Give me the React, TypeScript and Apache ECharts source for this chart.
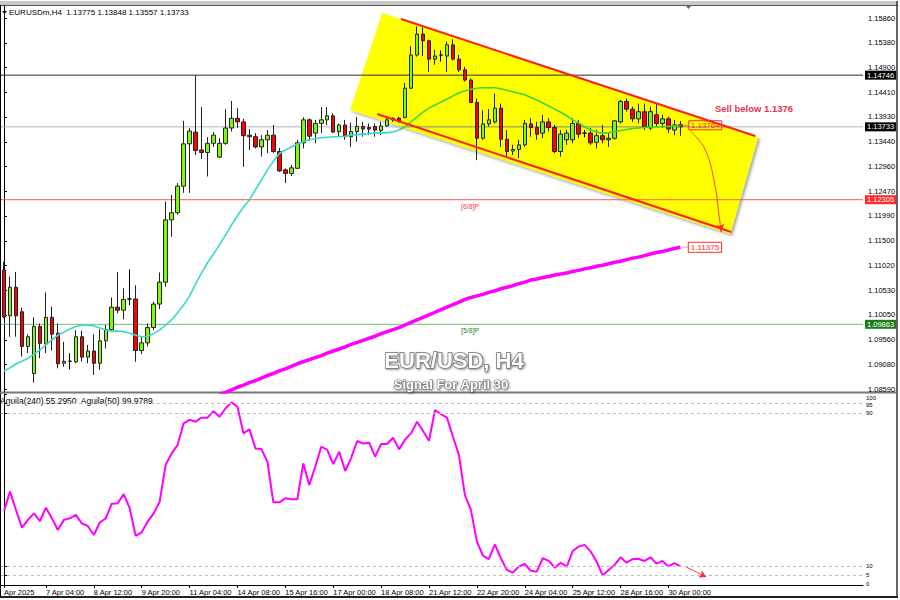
import React, { useEffect, useRef } from 'react';
import * as echarts from 'echarts';

// ---------- data ----------
const barCount = 144; // bar slots on the time axis (114 bars + right shift)

// [open, close, low, high]
const candles: number[][] = [
  [1.1093, 1.1001, 1.0998, 1.1109], [1.1003, 1.1059, 1.0962, 1.1080], [1.1059, 1.1003, 1.0962, 1.1089],
  [1.1011, 1.0943, 1.0923, 1.1019], [1.0943, 1.0962, 1.0930, 1.0967], [1.0890, 1.0982, 1.0872, 1.1000],
  [1.0982, 1.0949, 1.0920, 1.0988], [1.0948, 1.1000, 1.0930, 1.1049], [1.1000, 1.0967, 1.0935, 1.1021],
  [1.0969, 1.0909, 1.0900, 1.0988], [1.0910, 1.0914, 1.0903, 1.0952], [1.0914, 1.0914, 1.0898, 1.0930],
  [1.0913, 1.0962, 1.0910, 1.0975], [1.0962, 1.0922, 1.0913, 1.0974], [1.0922, 1.0934, 1.0910, 1.0946],
  [1.0934, 1.0910, 1.0887, 1.0967], [1.0910, 1.0954, 1.0897, 1.0976], [1.0954, 1.0976, 1.0939, 1.0985],
  [1.0976, 1.1020, 1.0972, 1.1039], [1.1020, 1.1014, 1.1008, 1.1089], [1.1014, 1.1035, 1.0996, 1.1057],
  [1.1036, 1.1036, 1.1024, 1.1094], [1.1036, 1.0935, 1.0913, 1.1063], [1.0935, 1.0950, 1.0928, 1.0962],
  [1.0950, 1.0980, 1.0943, 1.0988], [1.0980, 1.1026, 1.0975, 1.1031], [1.1026, 1.1069, 1.1016, 1.1088],
  [1.1069, 1.1191, 1.1060, 1.1227], [1.1191, 1.1205, 1.1158, 1.1240], [1.1205, 1.1257, 1.1201, 1.1263],
  [1.1257, 1.1340, 1.1244, 1.1385], [1.1340, 1.1365, 1.1244, 1.1371], [1.1363, 1.1327, 1.1318, 1.14746],
  [1.1328, 1.1323, 1.1310, 1.1412], [1.1323, 1.1341, 1.1276, 1.1353], [1.1341, 1.1357, 1.1334, 1.1363],
  [1.1314, 1.1341, 1.1312, 1.1351], [1.1341, 1.1371, 1.1338, 1.1408], [1.1371, 1.1390, 1.1364, 1.1424],
  [1.1390, 1.1383, 1.1371, 1.1410], [1.1383, 1.1356, 1.1295, 1.1389], [1.1357, 1.1354, 1.1328, 1.1369],
  [1.1354, 1.1334, 1.1331, 1.1361], [1.1334, 1.1348, 1.1315, 1.1357], [1.1348, 1.1357, 1.1322, 1.1367],
  [1.1357, 1.1325, 1.1322, 1.1377], [1.1325, 1.1287, 1.1285, 1.1332], [1.1289, 1.1282, 1.1263, 1.1292],
  [1.1282, 1.1293, 1.1277, 1.1299], [1.1292, 1.1342, 1.1291, 1.1348], [1.1342, 1.1387, 1.1331, 1.1392],
  [1.1387, 1.1355, 1.1346, 1.1390], [1.1361, 1.1380, 1.1341, 1.1387], [1.1380, 1.1387, 1.1361, 1.1412],
  [1.1387, 1.1395, 1.1377, 1.1412], [1.1395, 1.1363, 1.1361, 1.1400], [1.1364, 1.1377, 1.1354, 1.1380],
  [1.1377, 1.1354, 1.1348, 1.1387], [1.1354, 1.1364, 1.1334, 1.1382], [1.1364, 1.1374, 1.1344, 1.1393],
  [1.1374, 1.1369, 1.1354, 1.1383], [1.1372, 1.1369, 1.1357, 1.1380], [1.1374, 1.1367, 1.1354, 1.1380],
  [1.1366, 1.1375, 1.1357, 1.1383], [1.1375, 1.1387, 1.1374, 1.1392], [1.1390, 1.1387, 1.1383, 1.1392],
  [1.1390, 1.1385, 1.1381, 1.1393], [1.1392, 1.1449, 1.1390, 1.1459], [1.1449, 1.1514, 1.1447, 1.1532],
  [1.1514, 1.1555, 1.1511, 1.1570], [1.1555, 1.1542, 1.1512, 1.1568], [1.1542, 1.1506, 1.1481, 1.1544],
  [1.1506, 1.1512, 1.1495, 1.1524], [1.1514, 1.1514, 1.1501, 1.1523], [1.1512, 1.1534, 1.1481, 1.1540],
  [1.1534, 1.1506, 1.1503, 1.1545], [1.1506, 1.1485, 1.1481, 1.1514], [1.1485, 1.1465, 1.1462, 1.1491],
  [1.1465, 1.1421, 1.1420, 1.1468], [1.1421, 1.1351, 1.1308, 1.1429], [1.1351, 1.1379, 1.1348, 1.1406],
  [1.1379, 1.1387, 1.1374, 1.1408], [1.1383, 1.1410, 1.1380, 1.1439], [1.1410, 1.1349, 1.1334, 1.1419],
  [1.1349, 1.1325, 1.1315, 1.1367], [1.1326, 1.1329, 1.1318, 1.1338], [1.1329, 1.1338, 1.1312, 1.1348],
  [1.1338, 1.1380, 1.1334, 1.1387], [1.1379, 1.1372, 1.1354, 1.1390], [1.1372, 1.1359, 1.1348, 1.1383],
  [1.1361, 1.1383, 1.1351, 1.1397], [1.1383, 1.1372, 1.1364, 1.1390], [1.1372, 1.1325, 1.1322, 1.1377],
  [1.1325, 1.1359, 1.1315, 1.1367], [1.1348, 1.1361, 1.1338, 1.1367], [1.1348, 1.1380, 1.1341, 1.1390],
  [1.1380, 1.1359, 1.1351, 1.1387], [1.1361, 1.1361, 1.1353, 1.1367], [1.1361, 1.1342, 1.1338, 1.1371],
  [1.1343, 1.1356, 1.1331, 1.1367], [1.1356, 1.1348, 1.1341, 1.1377], [1.1348, 1.1351, 1.1334, 1.1361],
  [1.1351, 1.1385, 1.1348, 1.1387], [1.1383, 1.1423, 1.1380, 1.1426], [1.1423, 1.1408, 1.1403, 1.1429],
  [1.1408, 1.1389, 1.1383, 1.1413], [1.1389, 1.1403, 1.1380, 1.1419], [1.1403, 1.1372, 1.1367, 1.1419],
  [1.1371, 1.1403, 1.1367, 1.1413], [1.1397, 1.1380, 1.1374, 1.1419], [1.1380, 1.1389, 1.1371, 1.1397],
  [1.1389, 1.1369, 1.1361, 1.1393], [1.1367, 1.1377, 1.1357, 1.1387], [1.13775, 1.13733, 1.13557, 1.13848],
];

// fast moving average (turquoise)
const maFast: number[] = [
  1.0895, 1.0901, 1.0909, 1.0914, 1.0920, 1.0928, 1.0936, 1.0946, 1.0956, 1.0965,
  1.0971, 1.0977, 1.0982, 1.0985, 1.0985, 1.0983, 1.0979, 1.0975, 1.0973, 1.0973,
  1.0972, 1.0969, 1.0965, 1.0962, 1.0963, 1.0968, 1.0975, 1.0985, 1.0995, 1.1009,
  1.1024, 1.1042, 1.1065, 1.1087, 1.1107, 1.1124, 1.1142, 1.1161, 1.1181, 1.1199,
  1.1216, 1.1230, 1.1250, 1.1269, 1.1289, 1.1306, 1.1321, 1.1328, 1.1334, 1.1339,
  1.1344, 1.1348, 1.1350, 1.1352, 1.1353, 1.1354, 1.1354, 1.1355, 1.1357, 1.1358,
  1.1359, 1.1360, 1.1361, 1.1361, 1.1362, 1.1363, 1.1367, 1.1374, 1.1383, 1.1393,
  1.1402, 1.1410, 1.1416, 1.1422, 1.1428, 1.1434, 1.1440, 1.1444, 1.1447, 1.1449,
  1.1450, 1.1450, 1.1450, 1.1448, 1.1445, 1.1442, 1.1439, 1.1436, 1.1431, 1.1426,
  1.1420, 1.1414, 1.1408, 1.1402, 1.1395, 1.1387, 1.1381, 1.1373, 1.1367, 1.1363,
  1.1361, 1.1362, 1.1364, 1.1366, 1.1368, 1.1370, 1.1371, 1.1372, 1.1373, 1.1373,
  1.1374, 1.1374, 1.1375, 1.1375,
];
const maFastSplit = 66; // bar where the average enters the yellow channel

// slow moving average (magenta), starting at bar maSlowStart
const maSlowStart = 36;
const maSlow: number[] = [
  1.0849, 1.0853, 1.0858, 1.0863, 1.0867, 1.0872, 1.0876, 1.0881, 1.0886, 1.0890,
  1.0895, 1.0899, 1.0904, 1.0909, 1.0913, 1.0917, 1.0921, 1.0925, 1.0930, 1.0934,
  1.0938, 1.0942, 1.0947, 1.0951, 1.0955, 1.0959, 1.0963, 1.0968, 1.0972, 1.0976,
  1.0980, 1.0985, 1.0990, 1.0995, 1.1000, 1.1005, 1.1010, 1.1015, 1.1020, 1.1025,
  1.1030, 1.1035, 1.1039, 1.1042, 1.1045, 1.1049, 1.1052, 1.1056, 1.1059, 1.1062,
  1.1066, 1.1069, 1.1073, 1.1075, 1.1078, 1.1080, 1.1083, 1.1085, 1.1087, 1.1090,
  1.1092, 1.1095, 1.1097, 1.1100, 1.1102, 1.1105, 1.1108, 1.1110, 1.1113, 1.1116,
  1.1118, 1.1121, 1.1124, 1.1127, 1.1129, 1.1132, 1.1135, 1.11375,
];

// oscillator in the lower panel
const aguila: number[] = [
  38.8, 48.9, 39.3, 30.0, 34.1, 37.5, 33.5, 40.5, 34.9, 28.8,
  34.1, 34.9, 36.7, 32.3, 30.9, 26.2, 32.7, 34.9, 42.6, 42.8,
  47.6, 40.2, 25.7, 27.6, 33.2, 37.5, 43.6, 62.8, 68.9, 73.3,
  84.6, 86.5, 85.5, 87.6, 87.6, 91.0, 88.1, 92.4, 95.6, 93.3,
  79.4, 81.5, 71.5, 71.2, 64.6, 43.3, 43.3, 45.4, 44.9, 44.9,
  63.7, 52.4, 61.9, 72.4, 70.7, 63.3, 69.8, 59.7, 66.6, 75.4,
  74.1, 74.5, 67.2, 73.8, 73.8, 77.1, 71.0, 76.2, 79.4, 85.5,
  80.6, 75.5, 91.6, 89.5, 87.6, 77.6, 68.0, 47.1, 39.3, 22.7,
  15.4, 13.5, 21.3, 14.0, 7.9, 6.5, 9.7, 11.0, 7.4, 7.0,
  14.0, 12.6, 9.1, 11.7, 9.5, 17.8, 20.1, 21.0, 17.5, 12.3,
  5.0, 7.9, 10.5, 14.5, 11.7, 13.5, 13.7, 12.6, 14.5, 11.2,
  12.6, 9.7, 11.4, 9.7,
];

const priceTicks = [1.0859, 1.0908, 1.0956, 1.1005, 1.1053, 1.1102, 1.115, 1.1199,
  1.1247, 1.1296, 1.1344, 1.1393, 1.1441, 1.149, 1.1538, 1.1586];
const priceMin = 1.08537;
const priceMax = 1.16101;
const oscTicks = [0, 5, 10, 90, 95, 100];
const oscLevels = [5, 10, 90, 95];

const timeTickIdx = [0, 7, 15, 23, 31, 39, 47, 55, 63, 71, 79, 87, 95, 103, 111];
const timeTickText = ['Apr 2025', '7 Apr 04:00', '8 Apr 12:00', '9 Apr 20:00', '11 Apr 04:00',
  '14 Apr 08:00', '15 Apr 16:00', '17 Apr 00:00', '18 Apr 08:00', '21 Apr 12:00', '22 Apr 20:00',
  '24 Apr 04:00', '25 Apr 12:00', '28 Apr 16:00', '30 Apr 00:00'];

// horizontal levels: [7/8] line, bid line, [6/8], [5/8]
const levelValues = [1.14746, 1.13733, 1.12305, 1.09863];
const bid = 1.13733;

// drawn channel, in (bar, price)
const channelPoly = [[63.17, 1.15964], [126.0, 1.13534], [121.33, 1.11633], [57.83, 1.14063]];
const channelTop = [[66.33, 1.15846], [125.5, 1.13554]];
const channelBottom = [[62.33, 1.13985], [121.5, 1.11672]];
const bidInChannel = [[66.5, bid], [121.0, bid]];
const forecastPath = [[114.67, 1.13652], [117.17, 1.13279], [118.83, 1.12554], [119.33, 1.12103], [119.83, 1.11672]];
const sellLevel = 1.13764;
const slowLast = 1.11375;
const oscArrow = [[114.0, 9.4], [117.3, 4.2]];

// ---------- component ----------
export default function App() {
  const ref = useRef<HTMLDivElement>(null);

  useEffect(() => {
    if (!ref.current) return;
    const chart = echarts.init(ref.current, null, { renderer: 'svg' });
    const font = 'Liberation Sans';
    const cats = Array.from({ length: barCount }, (_, i) => String(i));
    const fastA = maFast.map((v, i) => (i <= maFastSplit ? v : null));
    const fastB = maFast.map((v, i) => (i >= maFastSplit ? v : null));
    const slow = candles.map((_, i) => (i >= maSlowStart ? maSlow[i - maSlowStart] : null));
    const lineColors = ['#2a2a2a', '#a9b6cc', '#ff5a5a', '#6cbf6c'];
    const boxColors = ['#000000', '#000000', '#ff2a2a', '#1a7d1a'];
    const lastF = forecastPath.length - 1;
    const xL = -0.5;
    const xR = barCount - 0.5;

    const levelSeries = levelValues.map((v, k) => ({
      type: 'line', xAxisIndex: 1, yAxisIndex: 0, z: 2, silent: true, symbol: 'none',
      data: [[xL, v], [xR, v]],
      lineStyle: { color: lineColors[k], width: 1 },
      endLabel: {
        show: true, formatter: v.toFixed(5), backgroundColor: boxColors[k], color: '#fff',
        padding: [1, 2, 0, 2], fontSize: 7.5, fontFamily: font, distance: 2,
      },
    }));

    const oscLabel = (v: number) => (v === 100 ? '{d|100}' : v === 95 ? '{e|95}' : v === 0 ? '{u|0}' : String(v));

    const option: any = {
      animation: false,
      backgroundColor: '#ffffff',
      grid: [
        { left: 1, top: 6, width: 862, height: 386 },
        { left: 1, top: 394, width: 862, height: 191 },
      ],
      xAxis: [
        { type: 'category', gridIndex: 0, data: cats, boundaryGap: true,
          axisLine: { show: false }, axisTick: { show: false }, axisLabel: { show: false }, splitLine: { show: false } },
        { type: 'value', gridIndex: 0, min: xL, max: xR, show: false },
        { type: 'category', gridIndex: 1, data: cats, boundaryGap: true,
          axisLine: { show: true, lineStyle: { color: '#000', width: 1 } },
          axisTick: { show: true, alignWithLabel: true, length: 3, interval: (i: number) => timeTickIdx.includes(i), lineStyle: { color: '#000' } },
          axisLabel: {
            show: true, interval: (i: number) => timeTickIdx.includes(i),
            formatter: (_v: string, i: number) => { const k = timeTickIdx.indexOf(i); return k >= 0 ? timeTickText[k] : ''; },
            align: 'left', margin: 3, fontSize: 7.5, fontFamily: font, color: '#000',
          },
          splitLine: { show: false } },
        { type: 'value', gridIndex: 1, min: xL, max: xR, show: false },
      ],
      yAxis: [
        { type: 'value', gridIndex: 0, position: 'right', min: priceMin, max: priceMax, scale: true,
          axisLine: { show: true, lineStyle: { color: '#000', width: 1 } },
          axisTick: { show: true, length: 3, customValues: priceTicks, lineStyle: { color: '#000' } },
          axisLabel: { show: true, customValues: priceTicks, formatter: (v: number) => v.toFixed(5),
            fontSize: 7.5, fontFamily: font, color: '#000', margin: 5 },
          splitLine: { show: false } },
        { type: 'value', gridIndex: 1, position: 'right', min: 0, max: 100,
          axisLine: { show: true, lineStyle: { color: '#000', width: 1 } },
          axisTick: { show: true, length: 3, customValues: oscTicks, lineStyle: { color: '#000' } },
          axisLabel: { show: true, showMinLabel: true, showMaxLabel: true, customValues: oscTicks, formatter: oscLabel,
            fontSize: 6, fontFamily: font, color: '#000', margin: 3,
            rich: {
              d: { padding: [7, 0, 0, 0], fontSize: 6, fontFamily: font, color: '#000' },
              e: { padding: [2, 0, 0, 0], fontSize: 6, fontFamily: font, color: '#000' },
              u: { padding: [0, 0, 3, 0], fontSize: 6, fontFamily: font, color: '#000' },
            } },
          splitLine: { show: false } },
      ],
      series: [
        {
          type: 'custom', xAxisIndex: 1, yAxisIndex: 0, z: 1, silent: true, data: [0],
          renderItem: (_p: any, api: any) => ({
            type: 'polygon',
            shape: { points: channelPoly.map((p) => api.coord(p)) },
            style: { fill: '#ffff00', shadowBlur: 3, shadowColor: 'rgba(0,0,0,0.35)', shadowOffsetX: 2, shadowOffsetY: 2 },
          }),
        },
        ...levelSeries,
        {
          type: 'line', xAxisIndex: 1, yAxisIndex: 0, z: 2, data: bidInChannel, symbol: 'none', silent: true,
          lineStyle: { color: '#a4a83a', width: 1 },
        },
        {
          type: 'candlestick', xAxisIndex: 0, yAxisIndex: 0, z: 3, data: candles, barWidth: 4,
          itemStyle: { color: '#7cfc00', color0: '#ff0000', borderColor: '#222', borderColor0: '#222', borderColorDoji: '#000', borderWidth: 1 },
        },
        {
          type: 'line', xAxisIndex: 0, yAxisIndex: 0, z: 4, data: fastA, symbol: 'none', silent: true,
          lineStyle: { color: '#3ad8cc', width: 1.6 },
        },
        {
          type: 'line', xAxisIndex: 0, yAxisIndex: 0, z: 4, data: fastB, symbol: 'none', silent: true,
          lineStyle: { color: '#3fd43a', width: 1.6 },
        },
        {
          type: 'line', xAxisIndex: 0, yAxisIndex: 0, z: 4, data: slow, symbol: 'none', silent: true,
          lineStyle: { color: '#ff00ff', width: 3.5 },
        },
        {
          type: 'line', xAxisIndex: 1, yAxisIndex: 0, z: 5, data: channelTop, symbol: 'none', silent: true,
          lineStyle: { color: '#ff1f1f', width: 2 },
        },
        {
          type: 'line', xAxisIndex: 1, yAxisIndex: 0, z: 5, data: channelBottom, symbol: 'none', silent: true,
          lineStyle: { color: '#ff1f1f', width: 2 },
        },
        {
          type: 'line', xAxisIndex: 1, yAxisIndex: 0, z: 6, smooth: 0.4, silent: true,
          symbol: 'none', showSymbol: true, showAllSymbol: true,
          data: forecastPath.map((p, k) => (k === lastF
            ? { value: p, symbol: 'arrow', symbolSize: [6, 8], symbolRotate: 188, itemStyle: { color: '#ff2a2a' } }
            : { value: p, symbol: 'none' })),
          lineStyle: { color: '#ff3b3b', width: 1 },
        },
        {
          type: 'line', xAxisIndex: 1, yAxisIndex: 0, z: 6, symbol: 'none', silent: true,
          data: [[113.2, sellLevel], [114.4, sellLevel]], lineStyle: { color: '#ff7a30', width: 1 },
          endLabel: { show: true, formatter: sellLevel.toFixed(5), distance: 0,
            color: '#ff2a2a', borderColor: '#ff2a2a', borderWidth: 1, padding: [1, 2, 0, 2],
            fontSize: 8, fontFamily: font },
        },
        {
          type: 'line', xAxisIndex: 1, yAxisIndex: 0, z: 6, symbol: 'none', silent: true,
          data: [[113.0, slowLast], [114.4, slowLast]], lineStyle: { color: '#ff9ac8', width: 1 },
          endLabel: { show: true, formatter: slowLast.toFixed(5), distance: 0,
            color: '#ff2a2a', backgroundColor: '#ffffff', borderColor: '#ff2a2a', borderWidth: 1, padding: [1, 2, 0, 2],
            fontSize: 8, fontFamily: font },
        },
        {
          type: 'line', xAxisIndex: 2, yAxisIndex: 1, z: 4, data: aguila, symbol: 'none', silent: true,
          lineStyle: { color: '#ff00ff', width: 2 },
          markLine: {
            silent: true, symbol: 'none', animation: false, label: { show: false },
            data: oscLevels.map((v) => ({ yAxis: v })),
            lineStyle: { color: '#bdbdbd', type: [3, 3], width: 1 },
          },
        },
        {
          type: 'line', xAxisIndex: 3, yAxisIndex: 1, z: 6, silent: true, showSymbol: true, showAllSymbol: true,
          data: [
            { value: oscArrow[0], symbol: 'none' },
            { value: oscArrow[1], symbol: 'arrow', symbolSize: [6, 7], symbolRotate: -116, itemStyle: { color: '#ff2a2a' } },
          ],
          lineStyle: { color: '#ff3b3b', width: 1 },
        },
      ],
      graphic: [
        // window frame
        { type: 'rect', shape: { x: 0, y: 1, width: 898, height: 4 }, style: { fill: '#c9c9c9' }, silent: true },
        { type: 'line', shape: { x1: 0, y1: 5.5, x2: 898, y2: 5.5 }, style: { stroke: '#555', lineWidth: 1 }, silent: true },
        { type: 'line', shape: { x1: 0.5, y1: 5, x2: 0.5, y2: 598 }, style: { stroke: '#000', lineWidth: 1 }, silent: true },
        { type: 'line', shape: { x1: 897, y1: 1, x2: 897, y2: 598 }, style: { stroke: '#333', lineWidth: 1.5 }, silent: true },
        { type: 'line', shape: { x1: 0, y1: 597, x2: 898, y2: 597 }, style: { stroke: '#222', lineWidth: 2 }, silent: true },
        { type: 'rect', shape: { x: 0, y: 391.5, width: 897, height: 2 }, style: { fill: '#777' }, silent: true },
        { type: 'polygon', shape: { points: [[685, 5], [692, 5], [688.5, 9]] }, style: { fill: '#666' }, silent: true },
        // header
        { type: 'polygon', shape: { points: [[2, 11], [7, 11], [4.5, 14]] }, style: { fill: '#000' }, silent: true },
        { type: 'text', x: 9, y: 12.5, silent: true,
          style: { text: 'EURUSDm,H4  1.13775 1.13848 1.13557 1.13733', fill: '#000', font: `8px "${font}"`, textVerticalAlign: 'middle' } },
        { type: 'text', x: 0, y: 400.5, silent: true,
          style: { text: 'Aguila(240) 55.2950  Aguila(50) 99.9789', fill: '#000', font: `8.5px "${font}"`, textVerticalAlign: 'middle' } },
        // level tags
        { type: 'text', x: 461, y: 80, silent: true, style: { text: '[7/8]P', fill: '#333', font: `7px "${font}"`, textVerticalAlign: 'middle' } },
        { type: 'text', x: 461, y: 206, silent: true, style: { text: '[6/8]P', fill: '#ff3b3b', font: `7px "${font}"`, textVerticalAlign: 'middle' } },
        { type: 'text', x: 461, y: 330, silent: true, style: { text: '[5/8]P', fill: '#1e8c1e', font: `7px "${font}"`, textVerticalAlign: 'middle' } },
        // annotations
        { type: 'text', x: 754, y: 108, silent: true, z: 100,
          style: { text: 'Sell below 1.1376', fill: '#e8344e', font: `bold 9.5px "${font}"`, textAlign: 'center', textVerticalAlign: 'middle' } },
        { type: 'text', x: 454, y: 360, silent: true, z: 100,
          style: { text: 'EUR/USD, H4', fill: '#ffffff', font: `bold 22px "${font}"`, textAlign: 'center', textVerticalAlign: 'middle',
            stroke: '#6e6e6e', lineWidth: 1.5, textShadowColor: 'rgba(0,0,0,0.45)', textShadowBlur: 2, textShadowOffsetX: 1, textShadowOffsetY: 1 } },
        { type: 'text', x: 451, y: 384, silent: true, z: 100,
          style: { text: 'Signal For April 30', fill: '#ffffff', font: `bold 13px "${font}"`, textAlign: 'center', textVerticalAlign: 'middle',
            stroke: '#6e6e6e', lineWidth: 1.2, textShadowColor: 'rgba(0,0,0,0.45)', textShadowBlur: 2, textShadowOffsetX: 1, textShadowOffsetY: 1 } },
      ],
    };

    chart.setOption(option);
    return () => chart.dispose();
  }, []);

  return (
    <div
      ref={ref}
      style={{ position: 'fixed', left: 0, top: 0, width: 900, height: 600, background: '#fff' }}
    />
  );
}
